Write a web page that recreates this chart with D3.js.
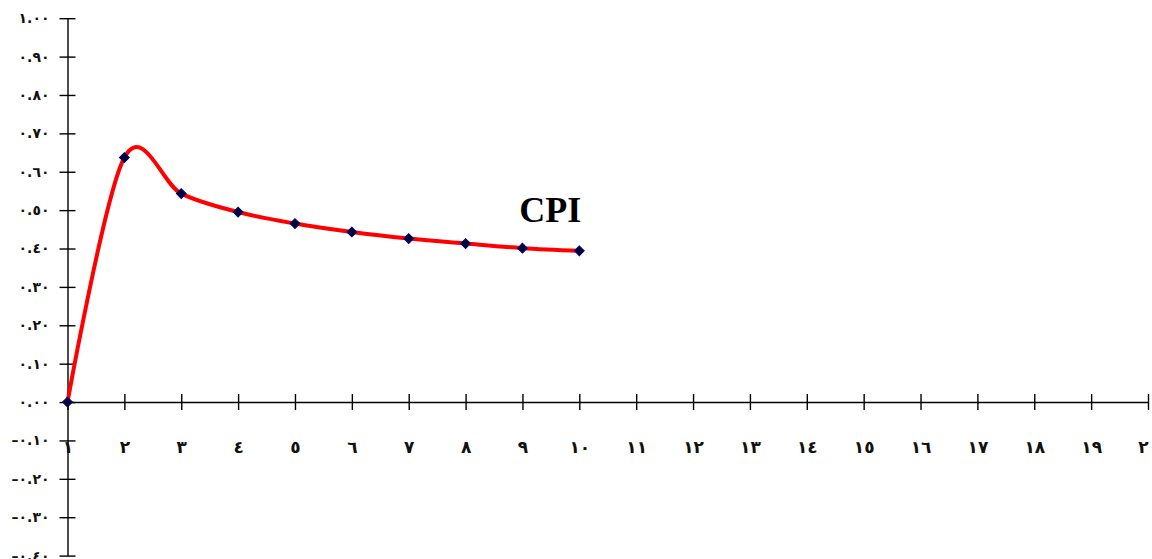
<!DOCTYPE html>
<html>
<head>
<meta charset="utf-8">
<script src="https://cdn.jsdelivr.net/npm/d3@7"></script>
<style>
  html, body { margin: 0; padding: 0; background: #fff; }
  svg { display: block; }
</style>
</head>
<body>
<svg id="chart" width="1152" height="559"></svg>
<script>
// ---- data ----
const periods = [1, 2, 3, 4, 5, 6, 7, 8, 9, 10];
const cpi = [0.000, 0.637, 0.543, 0.495, 0.465, 0.443, 0.426, 0.413, 0.401, 0.394];
const seriesName = "CPI";
const xTickValues = d3.range(1, 21);
const xTickLabels = ["١","٢","٣","٤","٥","٦","٧","٨","٩","١٠","١١","١٢","١٣","١٤","١٥","١٦","١٧","١٨","١٩","٢٠"];
const yTickValues = [1.0, 0.9, 0.8, 0.7, 0.6, 0.5, 0.4, 0.3, 0.2, 0.1, 0.0, -0.1, -0.2, -0.3, -0.4];
const yTickLabels = ["١.٠٠","٠.٩٠","٠.٨٠","٠.٧٠","٠.٦٠","٠.٥٠","٠.٤٠","٠.٣٠","٠.٢٠","٠.١٠","٠.٠٠","–٠.١٠","–٠.٢٠","–٠.٣٠","–٠.٤٠"];

// ---- scales ----
const svg = d3.select("#chart");
const x = d3.scaleLinear().domain([1, 20]).range([67.5, 1148]);
const y = d3.scaleLinear().domain([-0.4, 1.0]).range([555.6, 18.2]);

// ---- y axis ----
const yAxis = d3.axisLeft(y)
  .tickValues(yTickValues)
  .tickSize(0)
  .tickFormat((d, i) => yTickLabels[i]);
const gy = svg.append("g").attr("transform", `translate(${x(1)},0)`).call(yAxis);
gy.select(".domain").attr("stroke", "#000").attr("stroke-width", 1.4);
gy.selectAll(".tick line").remove();
gy.selectAll(".tick").append("line")
  .attr("x1", -8).attr("x2", 8)
  .attr("stroke", "#000").attr("stroke-width", 1.4);
gy.selectAll(".tick text")
  .attr("x", -18)
  .attr("direction", "ltr")
  .style("font-family", "'DejaVu Sans', sans-serif")
  .style("font-size", "14px")
  .style("font-weight", "bold")
  .attr("fill", "#111");

// ---- x axis (at y = 0) ----
const xAxis = d3.axisBottom(x)
  .tickValues(xTickValues)
  .tickSize(0)
  .tickFormat((d, i) => xTickLabels[i]);
const gx = svg.append("g").attr("transform", `translate(0,${y(0)})`).call(xAxis);
gx.select(".domain").attr("stroke", "#000").attr("stroke-width", 1.4);
gx.selectAll(".tick line").remove();
gx.selectAll(".tick").append("line")
  .attr("y1", -8).attr("y2", 8)
  .attr("stroke", "#000").attr("stroke-width", 1.4);
gx.selectAll(".tick text")
  .attr("y", 45)
  .attr("dy", "0.35em")
  .attr("direction", "ltr")
  .style("font-family", "'DejaVu Sans', sans-serif")
  .style("font-size", "17px")
  .style("font-weight", "bold")
  .attr("fill", "#111");

// ---- line ----
const line = d3.line()
  .x((d, i) => x(periods[i]))
  .y(d => y(d))
  .curve(d3.curveCatmullRom.alpha(0));
svg.append("path")
  .datum(cpi)
  .attr("fill", "none")
  .attr("stroke", "#ff0000")
  .attr("stroke-width", 4)
  .attr("stroke-linejoin", "round")
  .attr("d", line);

// ---- markers ----
const sym = d3.symbol().type(d3.symbolSquare).size(48);
svg.selectAll(".marker")
  .data(cpi)
  .join("path")
  .attr("class", "marker")
  .attr("transform", (d, i) => `translate(${x(periods[i])},${y(d)}) rotate(45)`)
  .attr("d", sym)
  .attr("fill", "#000033")
  .attr("stroke", "#000080")
  .attr("stroke-width", 1);

// ---- series label ----
svg.append("text")
  .attr("x", x(periods[periods.length - 1]) + 2)
  .attr("y", y(cpi[cpi.length - 1]) - 29)
  .attr("text-anchor", "end")
  .style("font-family", "'Liberation Serif', 'Times New Roman', serif")
  .style("font-weight", "bold")
  .style("font-size", "36px")
  .attr("fill", "#000")
  .text(seriesName);
</script>
</body>
</html>
